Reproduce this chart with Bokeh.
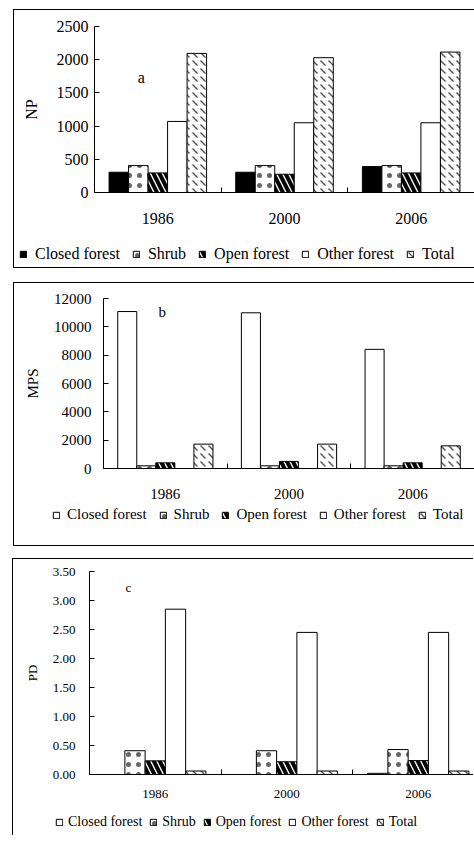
from bokeh.plotting import figure
from bokeh.models import (ColumnDataSource, Range1d, FixedTicker, Legend,
                          LegendItem, Label, PrintfTickFormatter)
from bokeh.layouts import column
from bokeh.embed import file_html
from bokeh.resources import INLINE

FONT = "Liberation Serif"

# ---------------- data ----------------
years = ["1986", "2000", "2006"]
classes = ["Closed forest", "Shrub", "Open forest", "Other forest", "Total"]

np_closed = [305, 305, 390]
np_shrub = [405, 405, 405]
np_open = [295, 275, 295]
np_other = [1070, 1050, 1050]
np_total = [2095, 2030, 2115]
np_ticks = [0, 500, 1000, 1500, 2000, 2500]

mps_closed = [11080, 10990, 8410]
mps_shrub = [190, 190, 190]
mps_open = [400, 500, 400]
mps_other = [0, 0, 0]
mps_total = [1720, 1720, 1600]
mps_ticks = [0, 2000, 4000, 6000, 8000, 10000, 12000]

pd_closed = [0.0, 0.0, 0.02]
pd_shrub = [0.41, 0.41, 0.43]
pd_open = [0.235, 0.22, 0.24]
pd_other = [2.85, 2.45, 2.45]
pd_total = [0.06, 0.06, 0.06]
pd_ticks = [0.0, 0.5, 1.0, 1.5, 2.0, 2.5, 3.0, 3.5]

BAR_W = 0.154
WIDTH = 460


def style_for(cls, closed_black):
    if cls == "Closed forest":
        return dict(fill_color="black" if closed_black else "white")
    if cls == "Shrub":
        return dict(fill_color="white", hatch_pattern=".", hatch_color="#666666",
                    hatch_scale=10, hatch_weight=1.3)
    if cls == "Open forest":
        return dict(fill_color="white", hatch_pattern="\\", hatch_color="black",
                    hatch_scale=12, hatch_weight=4)
    if cls == "Other forest":
        return dict(fill_color="white")
    return dict(fill_color="white", hatch_pattern="`", hatch_color="#555555",
                hatch_scale=8, hatch_weight=1.4)


def make_panel(series, ticks, ylabel, letter, letter_xy, fs, g, closed_black,
               fmt=None, border_bottom=True):
    p = figure(width=WIDTH, height=g["hc"], output_backend="svg",
               toolbar_location=None,
               x_range=Range1d(0, g["xend"]),
               y_range=Range1d(ticks[0], ticks[-1]),
               min_border_left=g["left"], min_border_right=0,
               min_border_top=g["top"], min_border_bottom=g["bottom"])
    p.frame_align = False
    p.outline_line_color = None
    p.xgrid.visible = False
    p.ygrid.visible = False
    p.background_fill_color = "white"
    p.border_fill_color = "white"

    sources = []
    for k, (cls, vals) in enumerate(zip(classes, series)):
        xs = [i + 0.5 + (k - 2) * BAR_W for i in range(len(years))]
        src = ColumnDataSource(dict(x=xs, top=vals))
        sources.append(src)
        p.vbar(x="x", top="top", bottom=0, width=BAR_W, source=src,
               line_color="black", line_width=1, **style_for(cls, closed_black))

    xa = p.xaxis[0]
    xa.ticker = FixedTicker(ticks=[i + 0.5 for i in range(len(years))],
                            minor_ticks=[i + 1 for i in range(len(years))])
    xa.major_label_overrides = {i + 0.5: y for i, y in enumerate(years)}
    xa.major_tick_in = 0
    xa.major_tick_out = 0
    xa.minor_tick_in = 5
    xa.minor_tick_out = 0
    xa.minor_tick_line_color = "black"
    xa.axis_line_color = "black"
    xa.major_label_text_font = FONT
    xa.major_label_text_font_size = fs
    xa.major_label_text_color = "black"
    xa.major_label_standoff = g["xstand"]

    ya = p.yaxis[0]
    ya.ticker = FixedTicker(ticks=ticks, minor_ticks=[])
    if fmt:
        ya.formatter = PrintfTickFormatter(format=fmt)
    ya.major_tick_in = 5
    ya.major_tick_out = 0
    ya.minor_tick_line_color = None
    ya.axis_line_color = "black"
    ya.major_label_text_font = FONT
    ya.major_label_text_font_size = fs
    ya.major_label_text_color = "black"
    ya.major_label_standoff = g["ystand"]
    ya.axis_label = ylabel
    ya.axis_label_text_font = FONT
    ya.axis_label_text_font_style = "normal"
    ya.axis_label_text_font_size = fs
    ya.axis_label_text_color = "black"
    ya.axis_label_standoff = g["lstand"]

    p.add_layout(Label(x=letter_xy[0], y=letter_xy[1], text=letter,
                       text_font=FONT, text_font_size=fs, text_color="black",
                       text_align="center", text_baseline="middle"))

    # legend strip: a second figure (same box); its renderers are hidden,
    # only their legend swatches are drawn
    lg = figure(width=WIDTH, height=g["hl"], output_backend="svg",
                toolbar_location=None, x_range=Range1d(0, 1),
                y_range=Range1d(-2 * ticks[-1], -ticks[-1]),
                x_axis_location=None, y_axis_location=None, min_border=0)
    lg.frame_align = False
    lg.outline_line_color = None
    lg.xgrid.visible = False
    lg.ygrid.visible = False
    items = []
    for cls, src in zip(classes, sources):
        r = lg.vbar(x="x", top="top", bottom=0, width=BAR_W, source=src,
                    line_color="black", line_width=1,
                    **style_for(cls, closed_black))
        r.visible = False
        items.append(LegendItem(label=cls, renderers=[r]))
    leg = Legend(items=items, location=g["legloc"], orientation="horizontal",
                 border_line_color=None, background_fill_alpha=0,
                 padding=0, margin=0, spacing=g["spacing"],
                 glyph_width=8, glyph_height=8, label_standoff=g["lstd"],
                 label_text_font=FONT, label_text_font_size=g["legfs"],
                 label_text_color="black", label_height=12,
                 click_policy="none")
    lg.add_layout(leg)

    box = column(p, lg, spacing=0)
    st = {"border-left": "1px solid black", "border-top": "1px solid black"}
    if border_bottom:
        st["border-bottom"] = "1px solid black"
    box.styles = st
    box.margin = g["margin"]
    return box


pa = make_panel([np_closed, np_shrub, np_open, np_other, np_total], np_ticks,
                "NP", "a", (0.37, 1730), "16px",
                dict(hc=224, hl=33, left=80, top=16, bottom=42, xend=3.0,
                     margin=(9, 0, 0, 13), xstand=20, ystand=6, lstand=14,
                     legloc=(5, 4), spacing=12, lstd=8, legfs="16px"),
                closed_black=True)

pb = make_panel([mps_closed, mps_shrub, mps_open, mps_other, mps_total], mps_ticks,
                "MPS", "b", (0.476, 11080), "15px",
                dict(hc=222, hl=40, left=89, top=15, bottom=37, xend=3.0,
                     margin=(14, 0, 0, 13), xstand=20, ystand=12, lstand=10,
                     legloc=(38, 22), spacing=12, lstd=7, legfs="15px"),
                closed_black=False)

pc = make_panel([pd_closed, pd_shrub, pd_open, pd_other, pd_total], pd_ticks,
                "PD", "c", (0.295, 3.23), "13px",
                dict(hc=248, hl=28, left=76, top=12, bottom=33, xend=2.92,
                     margin=(12, 0, 0, 12), xstand=15, ystand=14, lstand=10,
                     legloc=(42, 5), spacing=7, lstd=5, legfs="14px"),
                closed_black=False, fmt="%.2f", border_bottom=False)

layout = column(pa, pb, pc, spacing=0)

open("out.html", "w").write(file_html(layout, INLINE))
